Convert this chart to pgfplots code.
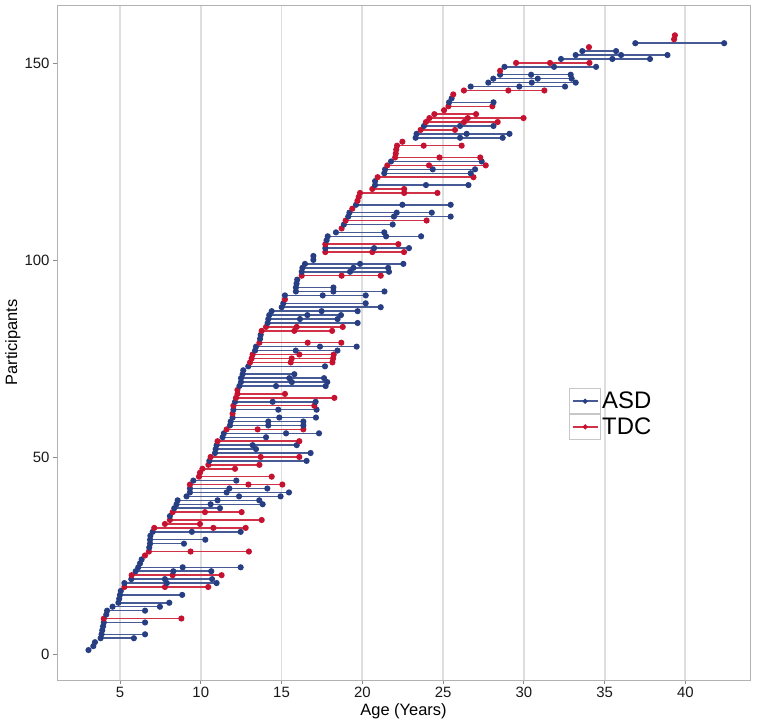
\documentclass[border=0pt]{standalone}
\usepackage{fontspec}
\setmainfont{Liberation Sans}
\usepackage{pgfplots}
\pgfplotsset{compat=1.18}

\definecolor{asddot}{RGB}{40,62,130}
\definecolor{asdline}{RGB}{70,90,150}
\definecolor{tdcdot}{RGB}{196,18,48}
\definecolor{tdcline}{RGB}{210,50,72}

\pgfplotsset{
  asdbase/.style={color=asdline, line width=1.5bp, mark=*, mark size=2.3bp,
    mark options={fill=asddot, draw=asddot, solid}},
  tdcbase/.style={color=tdcline, line width=1.5bp, mark=*, mark size=2.3bp,
    mark options={fill=tdcdot, draw=tdcdot, solid}},
  asd/.style={asdbase, forget plot},
  tdc/.style={tdcbase, forget plot},
}
% one participant per line: (age, participant)
\newcommand{\A}[1]{\addplot[asd] coordinates {#1};}
\newcommand{\T}[1]{\addplot[tdc] coordinates {#1};}

\begin{document}
\begin{tikzpicture}
\path[use as bounding box] (0,0) rectangle (760bp,726bp);
\begin{axis}[
  at={(57bp,46bp)}, anchor=south west,
  scale only axis, width=693bp, height=675bp,
  xmin=1.1, xmax=44.0, ymin=-6.6, ymax=164.7,
  xtick={5,10,...,40}, ytick={0,50,100,150},
  xmajorgrids=true,
  major grid style={color=black!13, line width=1.8bp},
  axis line style={color=black!30, line width=0.8bp},
  tick align=outside, tick pos=left, major tick length=4bp,
  tick style={color=black!45, line width=0.8bp},
  /pgf/number format/assume math mode=true,
  ticklabel style={font=\fontsize{15}{18}\selectfont, color=black!90},
  xlabel={Age (Years)}, ylabel={Participants},
  label style={font=\fontsize{16.5}{20}\selectfont},
  xlabel style={at={(axis description cs:0.5,-0.035)}, anchor=north, inner sep=0pt},
  ylabel style={at={(axis description cs:-0.0635,0.5)}, anchor=center, inner sep=0pt},
  legend style={draw=none, fill=none, at={(rel axis cs:0.739,0.394)}, anchor=west,
    font=\fontsize{24}{26}\selectfont, inner sep=0pt, row sep=0pt,
    nodes={inner sep=1.2bp, anchor=west}},
  legend cell align=left,
  legend image code/.code={
    \draw[black!22, line width=0.7bp, fill=white] (0bp,-12.5bp) rectangle (31bp,12.5bp);
    \draw[#1, mark=none, line width=1.1bp] (3bp,0bp) -- (28bp,0bp);
    \draw[#1, mark repeat=2, mark phase=2, mark size=1.7bp] plot coordinates {(3bp,0bp)(15.5bp,0bp)(28bp,0bp)};
  },
]
\A{(3.05,1)}
\A{(3.35,2)}
\A{(3.45,3)}
\A{(3.80,4)(5.86,4)}
\A{(3.86,5)(6.55,5)}
\A{(3.90,6)}
\A{(3.95,7)}
\A{(4.00,8)(6.55,8)}
\T{(4.00,9)(8.80,9)}
\A{(4.15,10)}
\A{(4.20,11)(6.55,11)}
\A{(4.54,12)(7.47,12)}
\A{(4.90,13)(8.05,13)}
\A{(4.95,14)}
\A{(5.00,15)(8.85,15)}
\A{(5.05,16)}
\T{(5.27,17)(7.78,17)(10.46,17)}
\A{(5.27,18)(7.90,18)(10.98,18)}
\A{(5.70,19)(7.78,19)(10.70,19)}
\T{(5.72,20)(8.26,20)(11.29,20)}
\A{(5.97,21)(8.30,21)(10.65,21)}
\A{(6.13,22)(8.88,22)(12.47,22)}
\A{(6.24,23)}
\A{(6.34,24)}
\T{(6.55,25)}
\T{(6.79,26)(9.37,26)(12.98,26)}
\A{(6.81,27)}
\A{(6.86,28)(8.96,28)}
\A{(6.86,29)(10.28,29)}
\A{(6.88,30)}
\A{(7.02,31)(9.45,31)(12.47,31)}
\T{(7.12,32)(10.78,32)(12.78,32)}
\T{(7.78,33)(9.95,33)}
\T{(8.09,34)(13.77,34)}
\A{(8.09,35)}
\T{(8.26,36)(10.26,36)(12.53,36)}
\A{(8.36,37)(11.19,37)}
\A{(8.50,38)(10.61,38)(13.83,38)}
\A{(8.57,39)(11.04,39)(13.62,39)}
\A{(9.12,40)(12.37,40)(14.94,40)}
\A{(9.33,41)(11.60,41)(15.46,41)}
\A{(9.33,42)(11.77,42)(14.12,42)}
\T{(9.33,43)(12.95,43)(15.05,43)}
\A{(9.54,44)(12.20,44)}
\T{(9.89,45)(14.39,45)}
\T{(9.95,46)}
\T{(10.10,47)(12.12,47)}
\T{(10.47,48)(13.63,48)}
\A{(10.53,49)(16.55,49)}
\T{(10.61,50)(13.71,50)(16.10,50)}
\A{(10.88,51)(16.80,51)}
\A{(10.92,52)(13.42,52)}
\A{(10.98,53)(13.21,53)(15.94,53)}
\T{(11.04,54)(16.10,54)}
\A{(11.35,55)(14.04,55)}
\A{(11.43,56)(15.28,56)(17.32,56)}
\T{(11.60,57)(13.52,57)(16.35,57)}
\A{(11.81,58)(14.18,58)(16.35,58)}
\A{(11.85,59)(14.18,59)(16.35,59)}
\A{(11.97,60)(14.86,60)(17.13,60)}
\T{(11.97,61)}
\A{(12.02,62)(14.80,62)(17.17,62)}
\T{(12.02,63)(17.03,63)}
\A{(12.12,64)(14.45,64)(17.11,64)}
\T{(12.18,65)(18.27,65)}
\T{(12.27,66)(15.21,66)}
\T{(12.27,67)}
\A{(12.39,68)(14.66,68)(17.73,68)}
\A{(12.49,69)(15.64,69)(17.83,69)}
\A{(12.49,70)(15.48,70)(17.63,70)}
\A{(12.59,71)(15.79,71)}
\A{(12.63,72)}
\A{(12.94,73)(17.69,73)}
\T{(13.05,74)(15.57,74)(18.15,74)}
\T{(13.15,75)(15.63,75)(18.19,75)}
\T{(13.21,76)(16.10,76)(18.23,76)}
\A{(13.36,77)(15.88,77)(18.46,77)}
\A{(13.42,78)(17.38,78)(19.65,78)}
\T{(13.63,79)(16.62,79)(18.70,79)}
\A{(13.67,80)}
\A{(13.71,81)}
\T{(13.77,82)(15.79,82)(18.13,82)}
\T{(14.04,83)(15.94,83)(18.79,83)}
\A{(14.14,84)(19.71,84)}
\A{(14.18,85)(16.14,85)(18.47,85)}
\A{(14.24,86)(16.60,86)(18.68,86)}
\A{(14.39,87)(17.48,87)(19.71,87)}
\A{(15.01,88)(21.14,88)}
\A{(15.11,89)(20.21,89)}
\T{(15.21,90)}
\A{(15.21,91)(17.55,91)(20.21,91)}
\A{(15.89,92)(18.21,92)(21.37,92)}
\A{(15.89,93)(18.21,93)}
\A{(15.93,94)}
\A{(15.97,95)}
\T{(16.25,96)(18.72,96)(21.14,96)}
\A{(16.25,97)(19.24,97)(21.65,97)}
\A{(16.29,98)(19.45,98)(21.60,98)}
\A{(16.45,99)(19.86,99)(22.54,99)}
\A{(16.97,100)}
\A{(16.97,101)}
\T{(17.71,102)(20.62,102)(22.58,102)}
\A{(17.71,103)(20.73,103)(22.89,103)}
\T{(17.71,104)(22.23,104)}
\A{(17.79,105)}
\A{(17.86,106)(21.47,106)(23.64,106)}
\A{(18.37,107)(21.36,107)}
\T{(18.72,108)}
\A{(18.86,109)(21.88,109)}
\T{(18.97,110)(23.98,110)}
\A{(19.13,111)(21.96,111)(25.47,111)}
\A{(19.20,112)(22.13,112)(24.30,112)}
\T{(19.38,113)}
\A{(19.61,114)(22.48,114)(25.47,114)}
\T{(19.70,115)}
\T{(19.78,116)}
\T{(19.86,117)(22.59,117)(24.65,117)}
\T{(20.62,118)(22.59,118)}
\A{(20.79,119)(23.94,119)(26.57,119)}
\A{(20.79,120)}
\T{(20.95,121)(26.88,121)}
\A{(21.36,122)(26.71,122)}
\A{(21.41,123)(24.36,123)(26.98,123)}
\T{(21.55,124)(24.13,124)(27.64,124)}
\A{(21.78,125)(27.39,125)}
\T{(22.03,126)(24.78,126)(27.30,126)}
\T{(22.07,127)}
\T{(22.10,128)}
\T{(22.15,129)(23.80,129)(26.15,129)}
\T{(22.48,130)}
\A{(23.30,131)(26.05,131)(28.69,131)}
\A{(23.36,132)(26.46,132)(29.11,132)}
\T{(23.61,133)(25.74,133)}
\A{(23.82,134)(26.05,134)(28.12,134)}
\T{(23.94,135)(26.30,135)(28.38,135)}
\T{(24.15,136)(26.53,136)(29.98,136)}
\T{(24.46,137)(27.04,137)}
\T{(25.06,138)}
\T{(25.33,139)(28.05,139)}
\A{(25.37,140)(28.12,140)}
\A{(25.53,141)}
\T{(25.63,142)}
\T{(26.29,143)(29.04,143)(31.27,143)}
\A{(26.71,144)(29.72,144)(32.55,144)}
\A{(27.80,145)(30.49,145)(33.21,145)}
\A{(28.11,146)(30.86,146)(32.96,146)}
\A{(28.53,147)(30.45,147)(32.90,147)}
\T{(28.53,148)}
\A{(28.80,149)(31.87,149)(34.47,149)}
\T{(29.52,150)(31.62,150)(34.06,150)}
\A{(32.30,151)(35.48,151)(37.81,151)}
\A{(33.21,152)(36.02,152)(38.89,152)}
\A{(33.62,153)(35.71,153)}
\T{(34.03,154)}
\A{(36.90,155)(42.40,155)}
\T{(39.30,156)}
\T{(39.35,157)}
\addlegendimage{asdbase}
\addlegendentry{ASD}
\addlegendimage{tdcbase}
\addlegendentry{TDC}
\end{axis}
\end{tikzpicture}
\end{document}
